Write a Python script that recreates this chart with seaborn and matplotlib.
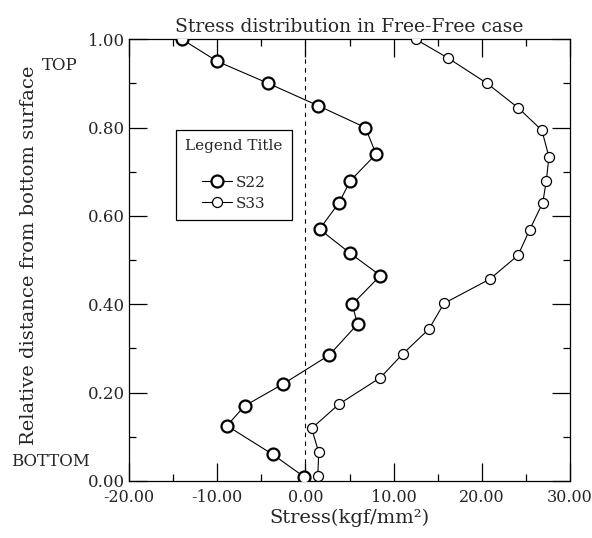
import pandas as pd
import matplotlib
matplotlib.use("Agg")
import matplotlib.pyplot as plt
import seaborn as sns
from matplotlib.ticker import MultipleLocator, FormatStrFormatter

# values
s22_height = [1.00, 0.95, 0.90, 0.85, 0.80, 0.74, 0.68, 0.63, 0.57, 0.515,
              0.465, 0.40, 0.355, 0.285, 0.22, 0.17, 0.125, 0.06, 0.01]
s22_stress = [-14.0, -10.0, -4.2, 1.4, 6.8, 8.0, 5.1, 3.8, 1.6, 5.1,
              8.5, 5.3, 5.9, 2.7, -2.5, -6.9, -8.9, -3.7, -0.2]
s33_height = [1.00, 0.957, 0.90, 0.845, 0.794, 0.734, 0.679, 0.63, 0.568, 0.511,
              0.457, 0.402, 0.344, 0.287, 0.234, 0.174, 0.119, 0.065, 0.012]
s33_stress = [12.5, 16.2, 20.6, 24.1, 26.8, 27.6, 27.3, 26.9, 25.4, 24.1,
              20.9, 15.7, 14.0, 11.0, 8.5, 3.8, 0.7, 1.5, 1.4]

x_ticks = [-20, -10, 0, 10, 20, 30]
y_ticks = [0.0, 0.2, 0.4, 0.6, 0.8, 1.0]

sns.set_style("ticks")
plt.rcParams["font.family"] = ["DejaVu Serif"]
plt.rcParams["font.size"] = 12

df22 = pd.DataFrame({"Stress": s22_stress, "Height": s22_height})
df33 = pd.DataFrame({"Stress": s33_stress, "Height": s33_height})

fig = plt.figure(figsize=(5.92, 5.38), dpi=100)
ax = fig.add_axes([0.218, 0.106, 0.745, 0.821])

sns.lineplot(data=df22, x="Stress", y="Height", sort=False, estimator=None,
             color="black", lw=0.8, marker="o", markersize=8.6,
             markerfacecolor="white", markeredgecolor="black",
             markeredgewidth=1.6, label="S22", ax=ax, zorder=3)
sns.lineplot(data=df33, x="Stress", y="Height", sort=False, estimator=None,
             color="black", lw=0.8, marker="o", markersize=7.2,
             markerfacecolor="white", markeredgecolor="black",
             markeredgewidth=0.9, label="S33", ax=ax, zorder=3)

ax.axvline(0, color="black", lw=0.8, ls=(0, (4, 4)), zorder=1)

ax.set_xlim(-20, 30)
ax.set_ylim(0, 1.0)
ax.set_xticks(x_ticks)
ax.set_yticks(y_ticks)
ax.xaxis.set_minor_locator(MultipleLocator(5))
ax.yaxis.set_minor_locator(MultipleLocator(0.1))
ax.xaxis.set_major_formatter(FormatStrFormatter("%.2f"))
ax.yaxis.set_major_formatter(FormatStrFormatter("%.2f"))
ax.tick_params(which="both", direction="in", top=True, right=True,
               color="black", width=0.9)
ax.tick_params(which="major", length=13)
ax.tick_params(which="minor", length=5)
ax.tick_params(axis="x", which="major", pad=6, labelsize=11.5)
ax.tick_params(axis="y", which="major", pad=3, labelsize=12)
for sp in ax.spines.values():
    sp.set_color("black")
    sp.set_linewidth(0.9)

ax.set_title("Stress distribution in Free-Free case", fontsize=13.5, pad=5)
ax.set_xlabel("Stress(kgf/mm²)", fontsize=14, labelpad=2)
ax.set_ylabel("Relative distance from bottom surface", fontsize=14)
ax.yaxis.set_label_coords(-0.207, 0.512)

ax.text(-0.117, 0.94, "TOP", transform=ax.transAxes, ha="right", va="center")
ax.text(-0.088, 0.045, "BOTTOM", transform=ax.transAxes, ha="right", va="center")

leg = ax.legend(title="Legend Title", loc="upper left",
                bbox_to_anchor=(0.106, 0.794), borderaxespad=0,
                fancybox=False, framealpha=1, edgecolor="black",
                fontsize=11, title_fontsize=11,
                handlelength=2.0, handletextpad=0.2, borderpad=0.6,
                labelspacing=0.45)
leg.get_frame().set_linewidth(0.9)
leg._legend_box.sep = 16

fig.savefig("out.png", dpi=100)
